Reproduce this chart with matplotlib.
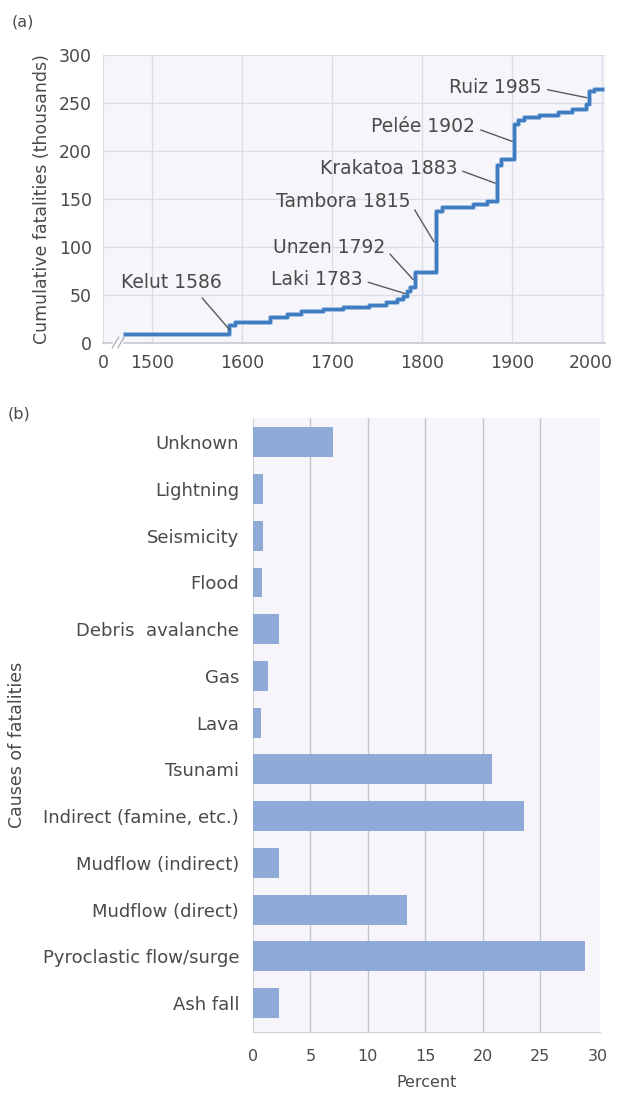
import numpy as np
import matplotlib.pyplot as plt
import matplotlib.patheffects as pe
from matplotlib.transforms import ScaledTranslation

plt.rcParams['font.family'] = ['DejaVu Sans']
TXT = '#4a4a4a'

# cumulative volcanic fatalities (thousands) as a step series
years = [1470, 1586, 1592, 1631, 1650, 1665, 1690, 1712, 1741, 1760, 1772, 1779,
         1783, 1786, 1792, 1815, 1822, 1856, 1872, 1883, 1888, 1902, 1906, 1913,
         1930, 1951, 1966, 1982, 1985, 1991, 2000]
deaths = [9, 19, 22, 27, 30, 33, 35, 37, 40, 43, 46, 49,
          54, 58, 74, 137, 142, 145, 148, 185, 192, 228, 232, 235,
          238, 241, 244, 249, 262, 265, 265]

events = ['Kelut 1586', 'Laki 1783', 'Unzen 1792', 'Tambora 1815',
          'Krakatoa 1883', 'Pelée 1902', 'Ruiz 1985']
event_years = [1586, 1783, 1792, 1815, 1883, 1902, 1985]
# where each label sits (x of right edge / centre, y)
label_x = [1522, 1734, 1759, 1787, 1839, 1859, 1933]
label_y = [63, 66, 99, 147, 182, 225, 266]

causes = ['Unknown', 'Lightning', 'Seismicity', 'Flood', 'Debris  avalanche', 'Gas',
          'Lava', 'Tsunami', 'Indirect (famine, etc.)', 'Mudflow (indirect)',
          'Mudflow (direct)', 'Pyroclastic flow/surge', 'Ash fall']
percent = [7.0, 0.85, 0.85, 0.8, 2.3, 1.3, 0.7, 20.8, 23.6, 2.3, 13.4, 28.9, 2.3]

fig = plt.figure(figsize=(6.2, 10.97), dpi=100)

# ---------- (a) cumulative fatalities ----------
ax1 = fig.add_axes([103/620, 1 - 343/1097, 502/620, 288/1097])
ax1.set_facecolor('#f5f5fa')
x0 = 1445.6
ax1.set_xlim(x0, 2003)
ax1.set_ylim(0, 300)
ax1.set_xticks([x0, 1500, 1600, 1700, 1800, 1900, 2000])
ax1.set_xticklabels(['0', '1500', '1600', '1700', '1800', '1900', '2000'])
ax1.set_yticks([0, 50, 100, 150, 200, 250, 300])
ax1.tick_params(length=0, labelsize=12.5, labelcolor=TXT, pad=8)
# keep the last year label inside the figure
last = ax1.get_xticklabels()[-1]
last.set_transform(last.get_transform() + ScaledTranslation(-0.12, 0, fig.dpi_scale_trans))
for v in [1500, 1600, 1700, 1800, 1900, 2000]:
    ax1.axvline(v, color='#dcdce6', lw=1, zorder=0)
for v in [50, 100, 150, 200, 250, 300]:
    ax1.axhline(v, color='#dcdce6', lw=1, zorder=0)
for s in ['top', 'right']:
    ax1.spines[s].set_visible(False)
ax1.spines['left'].set_color('#dcdce6')
ax1.spines['bottom'].set_color('#c8c8d2')
ax1.spines['bottom'].set_linewidth(1.2)

ax1.step(years, deaths, where='post', color='#3f7cc0', lw=2.3, zorder=3,
         path_effects=[pe.Stroke(linewidth=3.6, foreground='#a9c6e8'), pe.Normal()])

# axis break between 0 and 1500
ax1.plot([1459, 1466], [0, 0], color='white', lw=3, clip_on=False, zorder=4)
ax1.plot([1456, 1463], [-5, 6], color='#b0b0ba', lw=1, clip_on=False, zorder=5)
ax1.plot([1462, 1469], [-5, 6], color='#b0b0ba', lw=1, clip_on=False, zorder=5)

for i, name in enumerate(events):
    yr = event_years[i]
    k = years.index(yr)
    mid = (deaths[k - 1] + deaths[k]) / 2
    if i == 0:
        ax1.annotate(name, xy=(yr, mid), xytext=(label_x[i], label_y[i]),
                     ha='center', va='center', fontsize=13.5, color=TXT,
                     arrowprops=dict(arrowstyle='-', color='#5a5a5a', lw=1,
                                     relpos=(0.75, 0), shrinkA=3, shrinkB=0))
    else:
        ax1.annotate(name, xy=(yr - 2, mid), xytext=(label_x[i], label_y[i]),
                     ha='right', va='center', fontsize=13.5, color=TXT,
                     arrowprops=dict(arrowstyle='-', color='#5a5a5a', lw=1,
                                     relpos=(1, 0.45), shrinkA=2, shrinkB=0))

ax1.set_ylabel('Cumulative fatalities (thousands)', fontsize=12.5, color=TXT, labelpad=6)
fig.text(12/620, 1 - 22/1097, '(a)', fontsize=11.5, color=TXT, va='center')

# ---------- (b) causes of fatalities ----------
ax2 = fig.add_axes([253/620, 1 - 1032/1097, 347/620, 614/1097])
ax2.set_facecolor('#f8f5fa')
pos = np.arange(len(causes))[::-1]
ax2.barh(pos, percent, height=0.64, color='#8eaad6', zorder=3)
ax2.set_xlim(0, 30.2)
ax2.set_ylim(-0.62, 12.52)
ax2.set_xticks([0, 5, 10, 15, 20, 25, 30])
ax2.set_yticks(pos)
ax2.set_yticklabels(causes)
ax2.tick_params(axis='y', length=0, labelsize=13, labelcolor=TXT, pad=10)
ax2.tick_params(axis='x', length=0, labelsize=11.5, labelcolor=TXT, pad=12)
for v in [5, 10, 15, 20, 25]:
    ax2.axvline(v, color='#c4c4cc', lw=1, zorder=1)
for s in ['top', 'right']:
    ax2.spines[s].set_visible(False)
ax2.spines['left'].set_color('#d0d0d8')
ax2.spines['bottom'].set_color('#d0d0d8')
ax2.set_xlabel('Percent', fontsize=11.5, color=TXT, labelpad=8)
fig.text(17/620, 1 - 745/1097, 'Causes of fatalities', rotation=90, fontsize=12.5,
         color=TXT, ha='center', va='center')
fig.text(8/620, 1 - 414/1097, '(b)', fontsize=11.5, color=TXT, va='center')

fig.savefig('out.png', dpi=100, facecolor='white')
